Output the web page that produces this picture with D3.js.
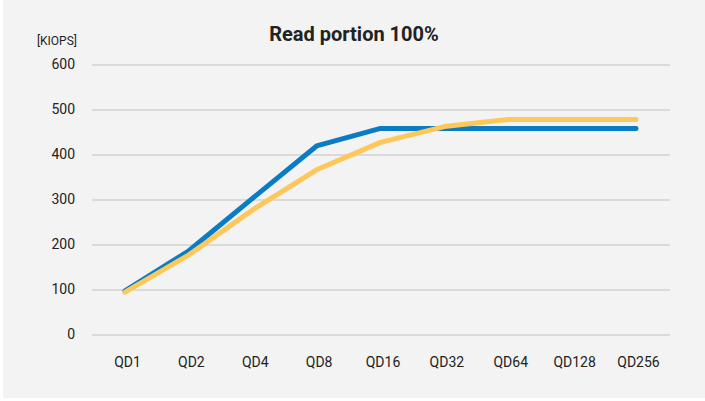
<!DOCTYPE html>
<html>
<head>
<meta charset="utf-8">
<script src="https://cdn.jsdelivr.net/npm/d3@7"></script>
<style>
  body{margin:0;background:#fff;}
  text{font-family:Roboto,"Noto Sans",sans-serif;fill:#222;}
</style>
</head>
<body>
<svg id="chart" width="705" height="401"></svg>
<script>
// data -------------------------------------------
var categories=['QD1','QD2','QD4','QD8','QD16','QD32','QD64','QD128','QD256'];
var blueVals=[97,186,303,419,458,458,458,458,458];
var yellowVals=[94,177,277,366,427,462,478,478,478];
var yTicks=[0,100,200,300,400,500,600];
var title='Read portion 100%';
var unitLabel='[KIOPS]';

var svg=d3.select('#chart');

// panel background
svg.append('rect')
  .attr('x',3).attr('y',0)
  .attr('width',702).attr('height',398)
  .attr('fill','#f3f3f3');

var x=d3.scalePoint()
  .domain(categories)
  .range([125,636]);
var y=d3.scaleLinear()
  .domain([0,600])
  .range([334.5,64.5]);

// gridlines + y labels
var yAxis=d3.axisLeft(y).tickValues(yTicks).tickSize(-(670-92)).tickPadding(17);
var gy=svg.append('g').attr('transform','translate(92,0)').call(yAxis);
gy.select('.domain').remove();
gy.selectAll('.tick line').attr('stroke','#dadada').attr('stroke-width',2);
gy.selectAll('.tick text')
  .attr('font-size',14)
  .attr('fill','#222')
  .style('font-family','Roboto,"Noto Sans",sans-serif');

// x labels
var xAxis=d3.axisBottom(x).tickSize(0).tickPadding(0);
var gx=svg.append('g').attr('transform','translate(2,357)').call(xAxis);
gx.select('.domain').remove();
gx.selectAll('.tick text')
  .attr('font-size',14)
  .attr('fill','#222')
  .style('font-family','Roboto,"Noto Sans",sans-serif');

// lines
var line=d3.line()
  .x((d,i)=>x(categories[i]))
  .y(d=>y(d));

svg.append('path')
  .datum(blueVals)
  .attr('d',line)
  .attr('fill','none')
  .attr('stroke','#0a7cc4')
  .attr('stroke-width',5)
  .attr('stroke-linecap','round')
  .attr('stroke-linejoin','round');

svg.append('path')
  .datum(yellowVals)
  .attr('d',line)
  .attr('fill','none')
  .attr('stroke','#fdc75a')
  .attr('stroke-width',5)
  .attr('stroke-linecap','round')
  .attr('stroke-linejoin','round');

// title and unit
svg.append('text')
  .attr('x',354).attr('y',41)
  .attr('text-anchor','middle')
  .attr('font-size',20)
  .attr('font-weight','bold')
  .attr('fill','#111')
  .text(title);

svg.append('text')
  .attr('x',77).attr('y',45)
  .attr('text-anchor','end')
  .attr('font-size',12)
  .text(unitLabel);
</script>
</body>
</html>
